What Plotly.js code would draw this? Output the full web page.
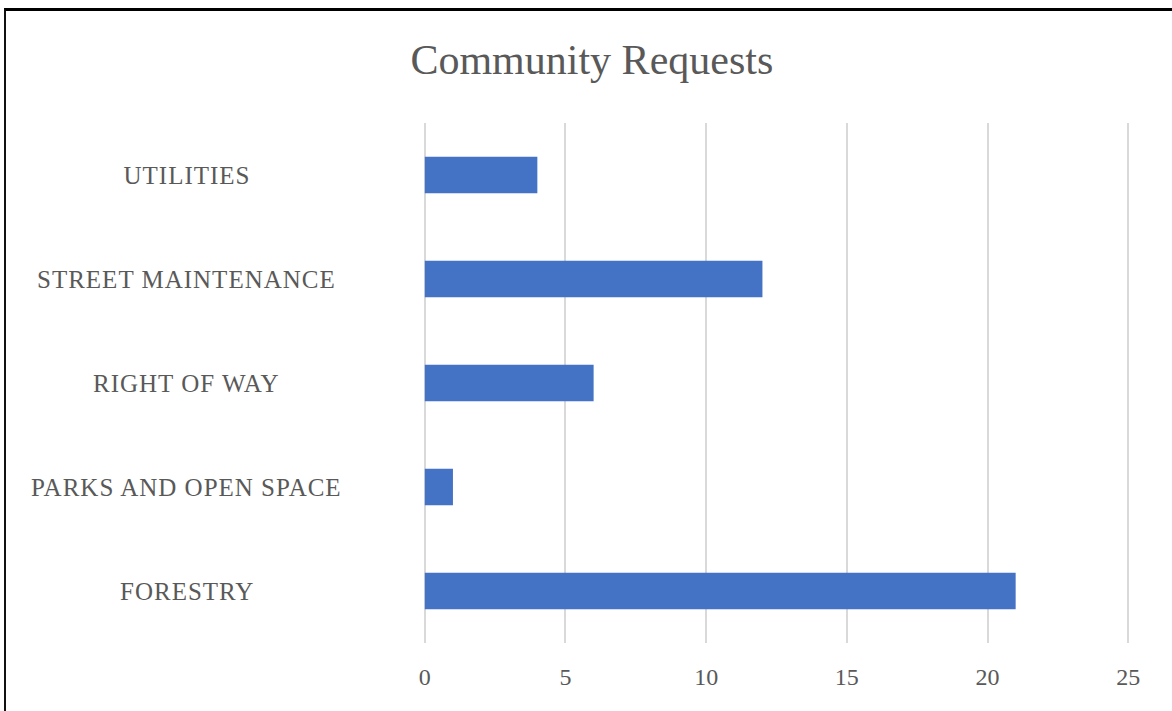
<!DOCTYPE html>
<html>
<head>
<meta charset="utf-8">
<script src="https://cdn.plot.ly/plotly-3.0.1.min.js"></script>
<style>
html,body{margin:0;padding:0;background:#fff;}
#chart{width:1172px;height:711px;}
#chart .annotation-text{letter-spacing:1px;}
#frame{position:absolute;left:4px;top:8px;width:1168px;height:703px;border-top:3px solid #000;border-left:2px solid #111;box-sizing:border-box;pointer-events:none;}
</style>
</head>
<body>
<div id="chart"></div>
<div id="frame"></div>
<script>
var categories = ["FORESTRY", "PARKS AND OPEN SPACE", "RIGHT OF WAY", "STREET MAINTENANCE", "UTILITIES"];
var requests = [21, 1, 6, 12, 4];
var tickValues = [0, 5, 10, 15, 20, 25];

var font = "Liberation Serif, Times New Roman, serif";

var annotations = categories.map(function (c) {
  return {
    xref: "paper", yref: "y", x: -0.332, y: c, text: c, showarrow: false,
    xanchor: "center", yanchor: "middle",
    font: {family: font, size: 25, color: "#595959"}
  };
});

var data = [{
  type: "bar",
  orientation: "h",
  y: categories,
  x: requests,
  marker: {color: "#4472c4"},
  hoverinfo: "x+y"
}];

var layout = {
  width: 1172, height: 711,
  margin: {l: 422, r: 41, t: 123, b: 68},
  paper_bgcolor: "#fff", plot_bgcolor: "#fff",
  bargap: 0.65,
  showlegend: false,
  title: {
    text: "Community Requests",
    x: 0.505, xanchor: "center", y: 0.916, yanchor: "middle",
    font: {family: font, size: 42, color: "#595959"}
  },
  xaxis: {
    range: [-0.1, 25.1],
    tickvals: tickValues,
    ticktext: tickValues.map(String),
    showgrid: true, gridcolor: "#d9d9d9", gridwidth: 2,
    zeroline: false, showline: false,
    ticks: "", ticklabelstandoff: 17,
    tickfont: {family: font, size: 24, color: "#595959"},
    fixedrange: true
  },
  yaxis: {
    type: "category",
    categoryorder: "array", categoryarray: categories,
    showticklabels: false, showgrid: false, zeroline: false, showline: false,
    fixedrange: true
  },
  annotations: annotations
};

Plotly.newPlot("chart", data, layout, {displayModeBar: false, staticPlot: true});
</script>
</body>
</html>
